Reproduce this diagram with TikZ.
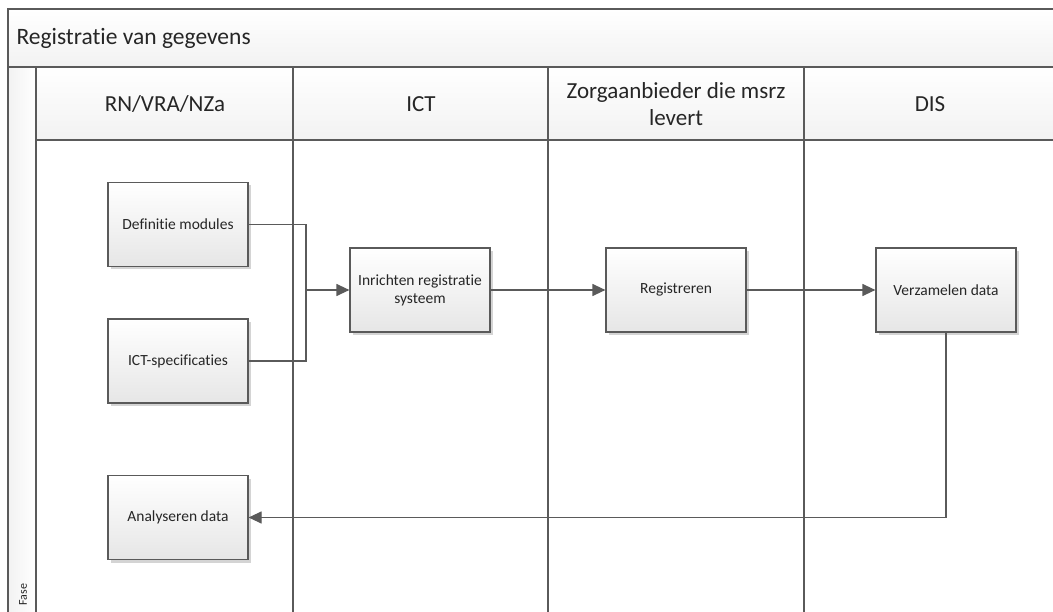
\documentclass[tikz,border=0pt]{standalone}
\usepackage{fontspec}
\setmainfont[Ligatures={NoCommon}]{Carlito}
\usetikzlibrary{arrows.meta,shadows}
\definecolor{ln}{HTML}{5A5A5A}
\definecolor{hdr}{HTML}{F2F2F2}
\definecolor{boxbot}{HTML}{E6E6E6}
\definecolor{shd}{HTML}{D4D4D4}
\definecolor{txt}{HTML}{262626}
\tikzset{
  lane/.style={draw=ln,line width=1.2pt},
  hdrbox/.style={draw=ln,line width=1.2pt,top color=white,bottom color=hdr},
  stepbox/.style={draw=ln,line width=1.2pt,top color=white,bottom color=boxbot,
    minimum width=140pt,minimum height=84pt,inner sep=2pt,align=center,
    font=\fontsize{15.5}{18}\selectfont,text=txt,
    drop shadow={shadow xshift=3pt,shadow yshift=-3pt,fill=shd,opacity=1}},
  hdrtext/.style={font=\fontsize{23}{27}\selectfont,align=center,text=txt},
  conn/.style={draw=ln,line width=1.2pt},
  arr/.style={conn,-{Triangle[length=13pt,width=12pt]}},
}
\begin{document}
\begin{tikzpicture}[x=1pt,y=-1pt]
\useasboundingbox (0,0) rectangle (1053,612);
\clip (0,0) rectangle (1053,612);
\fill[white] (0,0) rectangle (1053,612);
% title band
\draw[hdrbox] (8,9) rectangle (1070,67);
\node[anchor=west,font=\fontsize{23.5}{27}\selectfont,text=txt] (title) at (13,38) {Registratie van gegevens};
% phase strip
\draw[lane,left color=hdr,right color=white] (8,67) rectangle (36,630);
\node[rotate=90,anchor=west,font=\fontsize{12}{13}\selectfont,text=txt] (fase) at (23,609) {Fase};
% lane headers
\draw[hdrbox] (36,67) rectangle (293,140);
\draw[hdrbox] (293,67) rectangle (548,140);
\draw[hdrbox] (548,67) rectangle (804,140);
\draw[hdrbox] (804,67) rectangle (1070,140);
\node[hdrtext] (h1) at (165,104) {RN/VRA/NZa};
\node[hdrtext] (h2) at (421,104) {ICT};
\node[hdrtext] (h3) at (676,104) {Zorgaanbieder die msrz\\levert};
\node[hdrtext] (h4) at (930,104) {DIS};
% lane bodies
\draw[lane] (36,140) -- (36,630);
\draw[lane] (293,140) -- (293,630);
\draw[lane] (548,140) -- (548,630);
\draw[lane] (804,140) -- (804,630);
% steps
\node[stepbox] (def) at (178,224.5) {Definitie modules};
\node[stepbox] (ictspec) at (178,361) {ICT-specificaties};
\node[stepbox] (inr) at (420,290) {Inrichten registratie\\systeem};
\node[stepbox] (reg) at (676,290) {Registreren};
\node[stepbox] (verz) at (946,290) {Verzamelen data};
\node[stepbox] (anal) at (178,517.5) {Analyseren data};
% connectors
\coordinate (j) at (306,290);
\draw[conn] (def.east) -| (j);
\draw[conn] (ictspec.east) -| (j);
\draw[arr] (j) -- (inr.west);
\draw[arr] (inr.east) -- (reg.west);
\draw[arr] (reg.east) -- (verz.west);
\draw[arr] (verz.south) |- (anal.east);
\end{tikzpicture}
\end{document}
